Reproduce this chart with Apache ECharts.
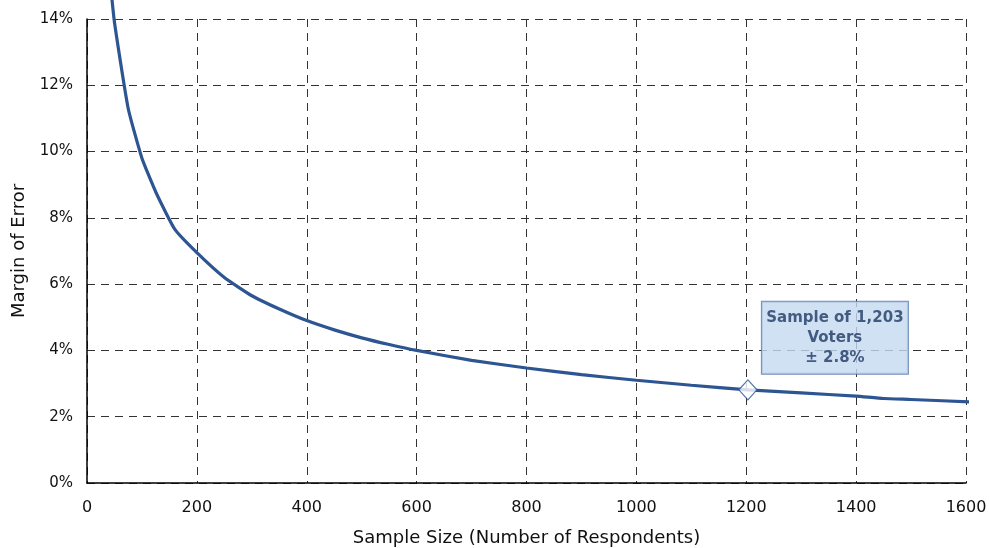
<!DOCTYPE html>
<html><head><meta charset="utf-8">
<script src="https://cdn.jsdelivr.net/npm/echarts@6/dist/echarts.min.js"></script>
<style>html,body{margin:0;padding:0;background:#fff}#c{width:990px;height:548px}</style>
</head><body><div id="c"></div>
<script>
const sampleSizes = [40, 50, 75, 100, 126, 160, 200, 250, 300, 350, 400, 450, 500, 550, 600, 700, 800, 900, 1000, 1100, 1203, 1300, 1400, 1450, 1500, 1616];
const marginOfError = [15.5, 13.9, 11.3, 9.8, 8.75, 7.65, 6.95, 6.2, 5.65, 5.25, 4.9, 4.62, 4.38, 4.18, 4.0, 3.7, 3.47, 3.27, 3.1, 2.95, 2.81, 2.72, 2.62, 2.55, 2.52, 2.44];
const highlightN = 1203;
const highlightMoe = 2.81;
const annotationLines = ['Sample of 1,203', 'Voters', '± 2.8%'];
const xTitle = 'Sample Size (Number of Respondents)';
const yTitle = 'Margin of Error';

const chart = echarts.init(document.getElementById('c'));
const font = 'DejaVu Sans';
chart.setOption({
  animation: false,
  grid: {left: 87, right: 24, top: 19, bottom: 65, outerBoundsMode: 'none', containLabel: false},
  xAxis: {
    type: 'value', min: 0, max: 1600, interval: 200,
    name: xTitle, nameLocation: 'middle', nameGap: 46,
    nameTextStyle: {fontFamily: font, fontSize: 18, color: '#111'},
    axisLine: {show: true, lineStyle: {color: '#000', width: 1.5}},
    axisTick: {show: false},
    axisLabel: {fontFamily: font, fontSize: 16, color: '#111', margin: 17, formatter: v => String(v)},
    splitLine: {show: true, lineStyle: {color: '#333', type: [8, 6], width: 1}}
  },
  yAxis: {
    type: 'value', min: 0, max: 14, interval: 2,
    name: yTitle, nameLocation: 'middle', nameGap: 58, nameRotate: 90,
    nameTextStyle: {fontFamily: font, fontSize: 18, color: '#111'},
    axisLine: {show: true, lineStyle: {color: '#000', width: 1.5}},
    axisTick: {show: false},
    axisLabel: {fontFamily: font, fontSize: 15, color: '#111', margin: 14, formatter: v => v + '%'},
    splitLine: {show: true, lineStyle: {color: '#333', type: [8, 6], width: 1}}
  },
  series: [
    {
      type: 'line', clip: false, symbol: 'none', smooth: 0.15,
      data: sampleSizes.map((n, i) => [n, marginOfError[i]]),
      lineStyle: {color: '#2c5592', width: 3.2}
    },
    {
      type: 'scatter', clip: false, symbol: 'diamond', symbolSize: [18, 20], z: 5,
      data: [[highlightN, highlightMoe]],
      itemStyle: {color: '#fff', borderColor: '#2c5592', borderWidth: 1.3},
      label: {
        show: true, position: 'inside', offset: [87, -52],
        align: 'center', verticalAlign: 'middle',
        formatter: annotationLines.join('\n'),
        fontFamily: font, fontSize: 15, fontWeight: 'bold', color: '#1f3864',
        lineHeight: 20, backgroundColor: '#c6d9f1', borderColor: '#4f72a8', borderWidth: 1,
        padding: [6, 5], width: 136
      }
    }
  ]
});
</script></body></html>
